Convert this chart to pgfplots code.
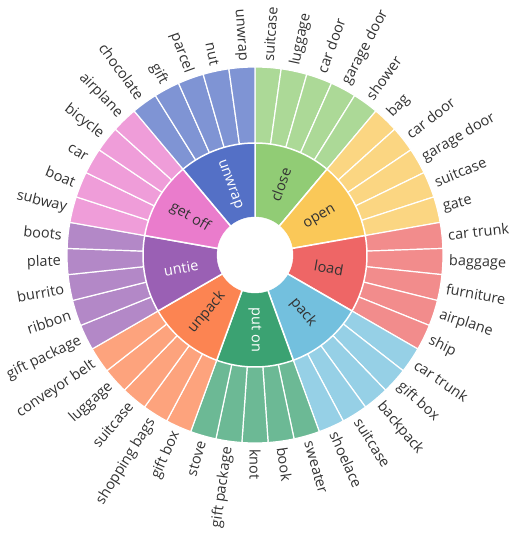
\documentclass[border=0pt]{standalone}
\usepackage{pgfplots}
\pgfplotsset{compat=1.18}
\usepackage{fontspec}
\setmainfont{Open Sans}
\definecolor{cUnwrap}{HTML}{5470C6}
\definecolor{cClose}{HTML}{91CC75}
\definecolor{cOpen}{HTML}{FAC858}
\definecolor{cLoad}{HTML}{EE6666}
\definecolor{cPack}{HTML}{73C0DE}
\definecolor{cPuton}{HTML}{3BA272}
\definecolor{cUnpack}{HTML}{FC8452}
\definecolor{cUntie}{HTML}{9A60B4}
\definecolor{cGetoff}{HTML}{EA7CCC}
\definecolor{txt}{HTML}{333333}
\newcommand{\lblfont}{\fontsize{14.5}{17}\selectfont}

% leaf: index (8 deg each, clockwise from 12 o'clock), colour, label
\newcommand{\leaf}[3]{%
  \pgfmathsetmacro{\aS}{90-8*#1}%
  \pgfmathsetmacro{\aE}{82-8*#1}%
  \pgfmathsetmacro{\aM}{86-8*#1}%
  \edef\tmp{\noexpand\addplot[fill=#2!75!white,draw=white,line width=1.2pt,
    domain=\aE:\aS,samples=25,variable=\noexpand\t]
    ({188*cos(\noexpand\t)},{188*sin(\noexpand\t)}) -- (axis cs:0,0) -- cycle;}%
  \tmp
  \pgfmathsetmacro{\lx}{194*cos(\aM)}%
  \pgfmathsetmacro{\ly}{194*sin(\aM)}%
  \ifdim\aM pt<-90pt
    \pgfmathsetmacro{\rot}{\aM+180}\def\anc{east}%
  \else
    \pgfmathsetmacro{\rot}{\aM}\def\anc{west}%
  \fi
  \edef\tmp{\noexpand\node[rotate=\rot,anchor=\anc,inner sep=0pt,text=txt,
    font=\noexpand\lblfont] at (axis cs:\lx,\ly) {#3};}%
  \tmp
}
% group: index (40 deg each), colour, label, label colour
\newcommand{\grp}[4]{%
  \pgfmathsetmacro{\aS}{90-40*#1}%
  \pgfmathsetmacro{\aE}{50-40*#1}%
  \pgfmathsetmacro{\aM}{70-40*#1}%
  \edef\tmp{\noexpand\addplot[fill=#2,draw=white,line width=1.5pt,
    domain=\aE:\aS,samples=40,variable=\noexpand\t]
    ({112*cos(\noexpand\t)},{112*sin(\noexpand\t)}) -- (axis cs:0,0) -- cycle;}%
  \tmp
  \pgfmathsetmacro{\lx}{75*cos(\aM)}%
  \pgfmathsetmacro{\ly}{75*sin(\aM)}%
  \ifdim\aM pt<-90pt
    \pgfmathsetmacro{\rot}{\aM+180}%
  \else
    \pgfmathsetmacro{\rot}{\aM}%
  \fi
  \edef\tmp{\noexpand\node[rotate=\rot,anchor=center,inner sep=0pt,text=#4,
    font=\noexpand\lblfont] at (axis cs:\lx,\ly) {#3};}%
  \tmp
}

\begin{document}
\begin{tikzpicture}
\begin{axis}[x=1pt,y=1pt,xmin=-255,xmax=258,ymin=-286,ymax=255,
    hide axis,clip=false]
\coordinate (ll) at (rel axis cs:0,0);
\coordinate (ur) at (rel axis cs:1,1);
% outer ring
\leaf{0}{cClose}{suitcase}
\leaf{1}{cClose}{luggage}
\leaf{2}{cClose}{car door}
\leaf{3}{cClose}{garage door}
\leaf{4}{cClose}{shower}
\leaf{5}{cOpen}{bag}
\leaf{6}{cOpen}{car door}
\leaf{7}{cOpen}{garage door}
\leaf{8}{cOpen}{suitcase}
\leaf{9}{cOpen}{gate}
\leaf{10}{cLoad}{car trunk}
\leaf{11}{cLoad}{baggage}
\leaf{12}{cLoad}{furniture}
\leaf{13}{cLoad}{airplane}
\leaf{14}{cLoad}{ship}
\leaf{15}{cPack}{car trunk}
\leaf{16}{cPack}{gift box}
\leaf{17}{cPack}{backpack}
\leaf{18}{cPack}{suitcase}
\leaf{19}{cPack}{shoelace}
\leaf{20}{cPuton}{sweater}
\leaf{21}{cPuton}{book}
\leaf{22}{cPuton}{knot}
\leaf{23}{cPuton}{gift package}
\leaf{24}{cPuton}{stove}
\leaf{25}{cUnpack}{gift box}
\leaf{26}{cUnpack}{shopping bags}
\leaf{27}{cUnpack}{suitcase}
\leaf{28}{cUnpack}{luggage}
\leaf{29}{cUnpack}{conveyor belt}
\leaf{30}{cUntie}{gift package}
\leaf{31}{cUntie}{ribbon}
\leaf{32}{cUntie}{burrito}
\leaf{33}{cUntie}{plate}
\leaf{34}{cUntie}{boots}
\leaf{35}{cGetoff}{subway}
\leaf{36}{cGetoff}{boat}
\leaf{37}{cGetoff}{car}
\leaf{38}{cGetoff}{bicycle}
\leaf{39}{cGetoff}{airplane}
\leaf{40}{cUnwrap}{chocolate}
\leaf{41}{cUnwrap}{gift}
\leaf{42}{cUnwrap}{parcel}
\leaf{43}{cUnwrap}{nut}
\leaf{44}{cUnwrap}{unwrap}
% inner ring
\grp{0}{cClose}{close}{txt}
\grp{1}{cOpen}{open}{txt}
\grp{2}{cLoad}{load}{txt}
\grp{3}{cPack}{pack}{txt}
\grp{4}{cPuton}{put on}{white}
\grp{5}{cUnpack}{unpack}{txt}
\grp{6}{cUntie}{untie}{white}
\grp{7}{cGetoff}{get off}{txt}
\grp{8}{cUnwrap}{unwrap}{white}
% hole
\addplot[fill=white,draw=white,domain=0:360,samples=72] ({38*cos(x)},{38*sin(x)}) -- cycle;
\end{axis}
\pgfresetboundingbox
\path (ll) rectangle (ur);
\end{tikzpicture}
\end{document}
